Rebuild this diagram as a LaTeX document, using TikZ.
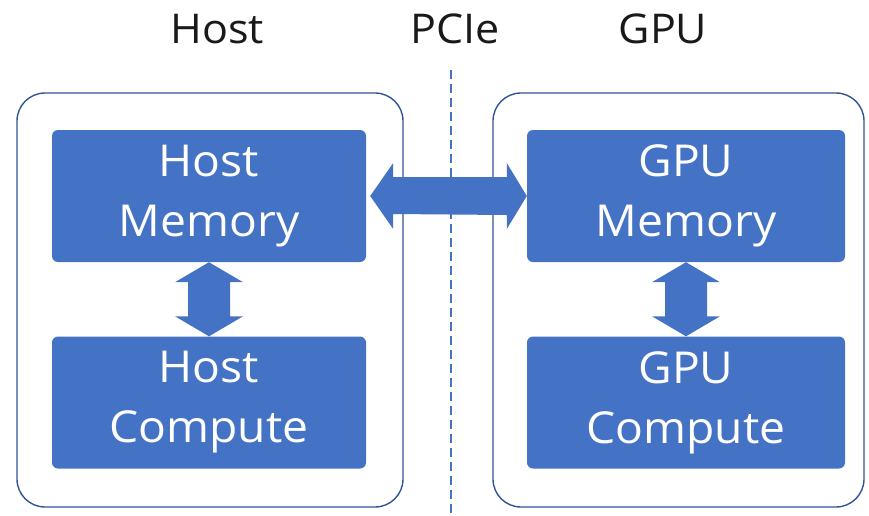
\documentclass[tikz,border=0pt]{standalone}
\usepackage{fontspec}
\setmainfont{Open Sans}[FakeStretch=1.05]
\usetikzlibrary{calc}
\definecolor{officeblue}{HTML}{4472C4}
\definecolor{edgeblue}{HTML}{2F5597}
\begin{document}
\begin{tikzpicture}[x=1pt,y=-1pt,
  title/.style={font=\fontsize{41}{50}\selectfont, text=black!90, anchor=base},
  unit/.style={fill=officeblue, rounded corners=6pt, minimum width=314pt, minimum height=132pt,
    text=white, align=center, font=\fontsize{44}{60}\selectfont, inner sep=0pt},
  frame/.style={draw=edgeblue, line width=1.4pt, rounded corners=28pt},
  link/.style={fill=officeblue}
]
\useasboundingbox (0,0) rectangle (869,515);

% titles
\node[title] (thost) at (217,43) {Host};
\node[title] (tpcie) at (455,43) {PCIe};
\node[title] (tgpu)  at (663,43) {GPU};

% PCIe divider
\coordinate (dtop) at (451,70);
\coordinate (dbot) at (451,515);
\draw[officeblue, line width=1.6pt, dash pattern=on 9pt off 5pt] (dtop) -- (dbot);

% host and device frames
\draw[frame] (17,93) rectangle (403,507);
\draw[frame] (493,93) rectangle (864,507);

% functional units
\node[unit] (hm) at (209,196) {Host\\Memory};
\node[unit] (hc) at (209,402.5) {Host\\Compute};
\node[unit, minimum width=318pt] (gm) at (686,196) {GPU\\Memory};
\node[unit, minimum width=318pt] (gc) at (686,402.5) {GPU\\Compute};

% PCIe link between the memories
\fill[link] ($(hm.east)+(4,0)$) -- ++(23,-33) -- ++(0,14) -- ($(gm.west)+(-20,-19)$)
  -- ++(0,-14) -- (gm.west) -- ++(-20,33) -- ++(0,-14) -- ($(hm.east)+(27,18)$)
  -- ++(0,15) -- cycle;

% memory <-> compute links
\foreach \m/\c in {hm/hc, gm/gc} {
  \fill[link] (\m.south) -- ++(34,20) -- ++(-13,0) -- ($(\c.north)+(21,-20)$)
    -- ++(13,0) -- (\c.north) -- ++(-34,-20) -- ++(13,0) -- ($(\m.south)+(-21,20)$)
    -- ++(-13,0) -- cycle;
}
\end{tikzpicture}
\end{document}
